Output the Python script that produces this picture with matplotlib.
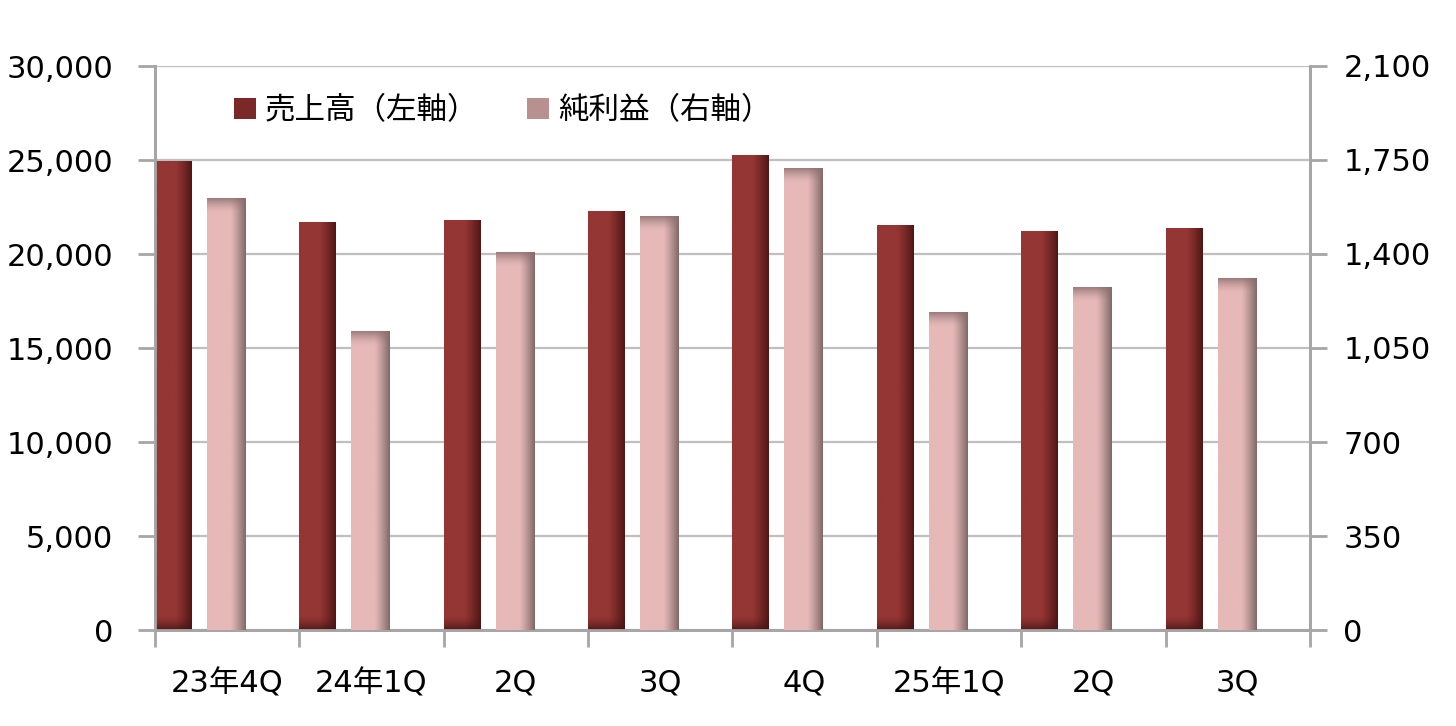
import numpy as np
import matplotlib.pyplot as plt
from matplotlib.patches import Patch

plt.rcParams['font.family'] = ['DejaVu Sans', 'Noto Sans CJK JP']

# data
quarters = ['23年4Q', '24年1Q', '2Q', '3Q', '4Q', '25年1Q', '2Q', '3Q']
sales = [24900, 21700, 21800, 22250, 25250, 21500, 21200, 21380]       # left axis
profit = [1605, 1110, 1407, 1538, 1720, 1184, 1277, 1307]              # right axis
left_ticks = [0, 5000, 10000, 15000, 20000, 25000, 30000]
right_ticks = [0, 350, 700, 1050, 1400, 1750, 2100]


def grad(c_flat, c_dark, n_rows, n_cols, edge, top=False, v_rows=0, c_v=None):
    c_flat = np.array(c_flat) / 255
    c_dark = np.array(c_dark) / 255
    t = np.linspace(0, 1, n_cols)
    w = np.clip((t - edge) / (1 - edge), 0, 1) ** 1.2
    row = c_flat[None, :] * (1 - w[:, None]) + c_dark[None, :] * w[:, None]
    img = np.repeat(row[None, :, :], n_rows, axis=0)
    if v_rows and c_v is not None:
        c_v = np.array(c_v) / 255
        k = min(v_rows, n_rows)
        for r in range(k):
            a = (1 - r / k) ** 1.5 * 0.8
            idx = r if top else n_rows - 1 - r
            img[idx] = img[idx] * (1 - a) + c_v * a
    return img


def shade_bars(ax, bars, c_flat, c_dark, edge, px_per_unit, top, c_v):
    for b in bars:
        x0, w, h = b.get_x(), b.get_width(), b.get_height()
        rows = max(int(h * px_per_unit), 2)
        img = grad(c_flat, c_dark, rows, 60, edge, top=top, v_rows=14, c_v=c_v)
        ax.imshow(img, extent=[x0, x0 + w, 0, h], aspect='auto',
                  origin='upper', zorder=3, interpolation='bilinear')


fig = plt.figure(figsize=(14.56, 7.26), dpi=100)
ax = fig.add_axes([155 / 1456, 1 - 630 / 726, 1155 / 1456, 564 / 726])
ax2 = ax.twinx()

x = np.arange(len(quarters))
b1 = ax.bar(x, sales, width=0.25, align='edge', color='#943634', zorder=2)
b2 = ax2.bar(x + 0.36, profit, width=0.27, align='edge', color='#e6b9b8', zorder=2)

ax.set_xlim(0, 8)
ax.set_ylim(0, 30000)
ax2.set_ylim(0, 2100)

shade_bars(ax, b1, (148, 54, 52), (80, 22, 22), 0.55, 564 / 30000, False, (70, 20, 20))
shade_bars(ax2, b2, (230, 185, 184), (130, 105, 105), 0.6, 564 / 2100, True, (140, 110, 110))
ax.set_xlim(0, 8)
ax.set_ylim(0, 30000)
ax2.set_ylim(0, 2100)

gray = '#a6a6a6'
ax.set_yticks(left_ticks)
ax.set_yticklabels([f'{v:,}' for v in left_ticks])
ax2.set_yticks(right_ticks)
ax2.set_yticklabels([f'{v:,}' for v in right_ticks])
ax.grid(axis='y', color='#bfbfbf', lw=1.6, zorder=0)
ax.set_axisbelow(True)

ax.set_xticks(np.arange(0, 9), minor=True)
ax.set_xticks(x + 0.5)
ax.set_xticklabels(quarters)
ax.tick_params(axis='x', which='major', length=0, pad=28, labelsize=22)
ax.tick_params(axis='x', which='minor', length=12, width=2, color=gray)
ax.tick_params(axis='y', length=12, width=2, color=gray, labelsize=22, pad=18)
ax2.tick_params(axis='y', length=12, width=2, color=gray, labelsize=22, pad=12)

for a in (ax, ax2):
    a.spines['top'].set_visible(False)
    for s in ('left', 'right', 'bottom'):
        a.spines[s].set_color(gray)
        a.spines[s].set_linewidth(2)

handles = [Patch(facecolor='#7a2828', edgecolor='none'),
           Patch(facecolor='#b89090', edgecolor='none')]
ax.legend(handles, ['売上高（左軸）', '純利益（右軸）'], ncol=2, frameon=False,
          loc='upper left', bbox_to_anchor=(0.045, 0.995), fontsize=22,
          handlelength=0.7, handleheight=0.7, handletextpad=0.3, columnspacing=1.6)

fig.savefig('out.png', dpi=100)
